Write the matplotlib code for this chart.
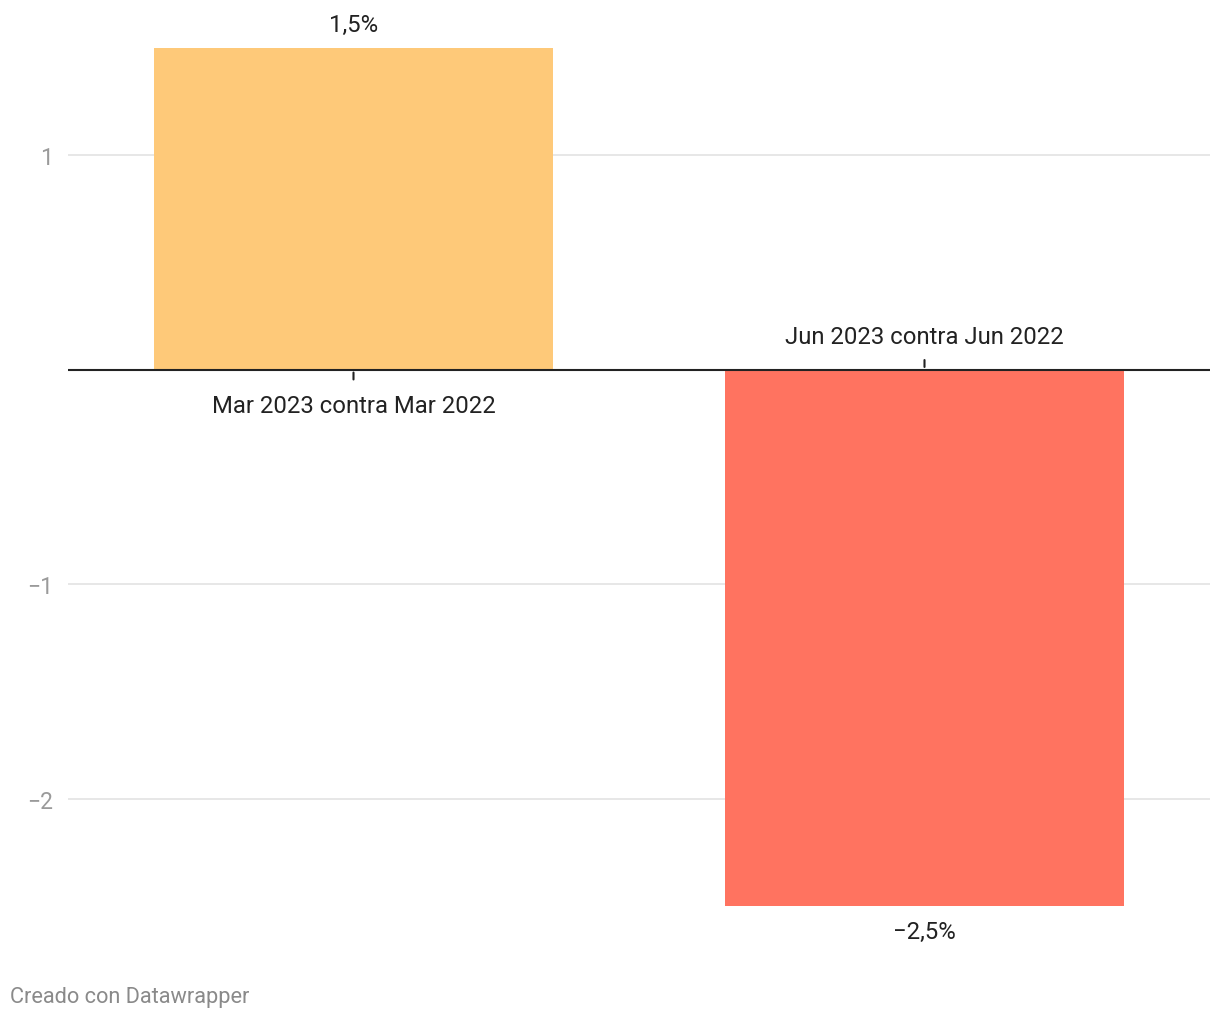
import matplotlib.pyplot as plt

plt.rcParams['font.family'] = ['Roboto', 'DejaVu Sans']

# Data
categories = ["Mar 2023 contra Mar 2022", "Jun 2023 contra Jun 2022"]
values = [1.5, -2.5]
value_labels = ["1,5%", "\u22122,5%"]
colors = ["#fec979", "#ff7360"]
yticks = [1, -1, -2]
ytick_labels = ["1", "\u22121", "\u22122"]

fig = plt.figure(figsize=(12.2, 10.2), dpi=100)
ax = fig.add_axes([68 / 1220, 113 / 1020, 1142 / 1220, 858 / 1020])

x = list(range(len(categories)))
ax.bar(x, values, width=0.70, color=colors, zorder=2)

ax.set_xlim(-0.5, 1.5)
ax.set_ylim(-2.5, 1.5)

# grid lines
ax.set_yticks(yticks)
ax.set_yticklabels(ytick_labels, fontsize=16.5, color="#9a9a9a")
ax.tick_params(axis="y", length=0, pad=11)
ax.grid(axis="y", color="#e3e3e3", linewidth=1.2, zorder=0)
ax.set_xticks([])
for s in ax.spines.values():
    s.set_visible(False)

# zero line
ax.axhline(0, color="#222222", linewidth=1.5, zorder=3)

# category labels and small ticks
for xi, v, cat, lab in zip(x, values, categories, value_labels):
    if v >= 0:
        ax.annotate("", xy=(xi, 0), xytext=(0, -9), textcoords="offset points",
                    arrowprops=dict(arrowstyle="-", color="#222222", lw=1.5))
        ax.annotate(cat, xy=(xi, 0), xytext=(0, -26), textcoords="offset points",
                    ha="center", va="center", fontsize=17.2, color="#222222")
        ax.annotate(lab, xy=(xi, v), xytext=(0, 17), textcoords="offset points",
                    ha="center", va="center", fontsize=17.2, color="#222222")
    else:
        ax.annotate("", xy=(xi, 0), xytext=(0, 9), textcoords="offset points",
                    arrowprops=dict(arrowstyle="-", color="#222222", lw=1.5))
        ax.annotate(cat, xy=(xi, 0), xytext=(0, 24), textcoords="offset points",
                    ha="center", va="center", fontsize=17.2, color="#222222")
        ax.annotate(lab, xy=(xi, v), xytext=(0, -18), textcoords="offset points",
                    ha="center", va="center", fontsize=17.2, color="#222222")

fig.text(10 / 1220, 1 - 998 / 1020, "Creado con Datawrapper", fontsize=15.7,
         color="#8a8a8a", ha="left", va="center")

fig.savefig("out.png", dpi=100, facecolor="white")
